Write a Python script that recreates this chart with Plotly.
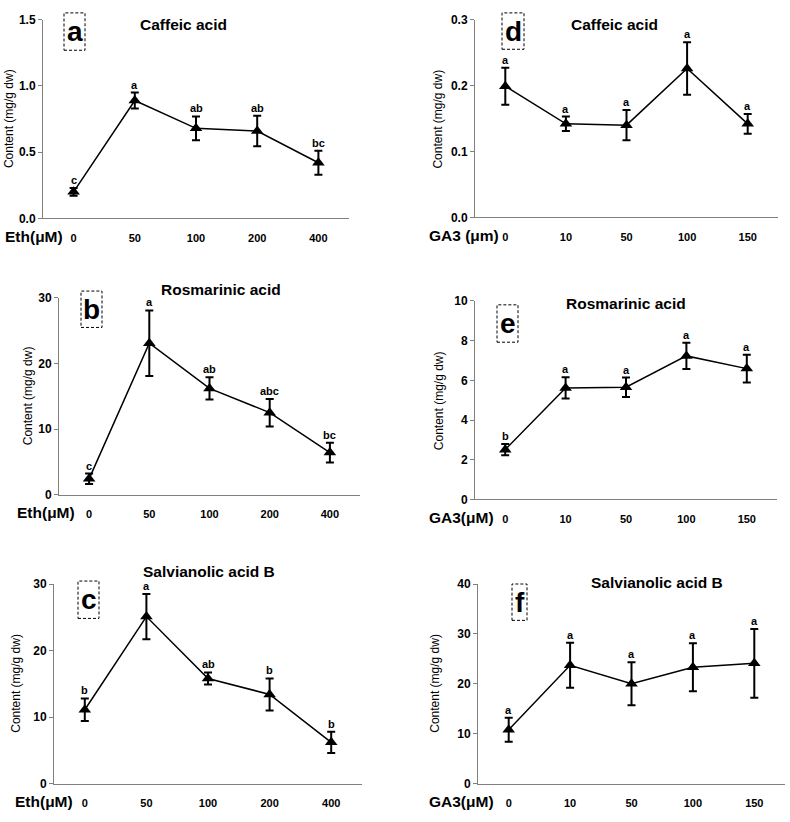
import plotly.graph_objects as go

# ---- data ----
eth_doses = ['0', '50', '100', '200', '400']
ga3_doses = ['0', '10', '50', '100', '150']

caffeic_eth = [0.20, 0.89, 0.68, 0.66, 0.42]
caffeic_eth_err = [0.03, 0.06, 0.09, 0.115, 0.09]
caffeic_eth_sig = ['c', 'a', 'ab', 'ab', 'bc']

rosmarinic_eth = [2.4, 23.1, 16.2, 12.5, 6.4]
rosmarinic_eth_err = [0.8, 5.0, 1.7, 2.1, 1.5]
rosmarinic_eth_sig = ['c', 'a', 'ab', 'abc', 'bc']

salvianolic_eth = [11.1, 25.1, 15.8, 13.4, 6.2]
salvianolic_eth_err = [1.7, 3.4, 0.9, 2.4, 1.6]
salvianolic_eth_sig = ['b', 'a', 'ab', 'b', 'b']

caffeic_ga3 = [0.199, 0.142, 0.140, 0.226, 0.142]
caffeic_ga3_err = [0.028, 0.011, 0.023, 0.040, 0.015]
caffeic_ga3_sig = ['a', 'a', 'a', 'a', 'a']

rosmarinic_ga3 = [2.51, 5.62, 5.65, 7.23, 6.59]
rosmarinic_ga3_err = [0.28, 0.54, 0.49, 0.66, 0.70]
rosmarinic_ga3_sig = ['b', 'a', 'a', 'a', 'a']

salvianolic_ga3 = [10.8, 23.7, 20.0, 23.3, 24.1]
salvianolic_ga3_err = [2.4, 4.5, 4.3, 4.8, 6.9]
salvianolic_ga3_sig = ['a', 'a', 'a', 'a', 'a']

W, H = 790, 822


def px(x):
    return x / W


def py(y):
    return 1 - y / H


FONT = 'Arial, Liberation Sans, sans-serif'

# panel layout in pixels: plot box (left, right, top, bottom), title, letter box, ytitle x, xlabel
panels = [
    dict(letter='a', title='Caffeic acid', doses=eth_doses, y=caffeic_eth, err=caffeic_eth_err,
         sig=caffeic_eth_sig, yrange=[0, 1.5], dtick=0.5, fmt='.1f', xlab='Eth(\u03bcM)',
         box=(43, 349, 13, 215), tpos=(183, 18), lbox=(64, 85, 6, 44), ytx=9, xlx=3),
    dict(letter='b', title='Rosmarinic acid', doses=eth_doses, y=rosmarinic_eth, err=rosmarinic_eth_err,
         sig=rosmarinic_eth_sig, yrange=[0, 30], dtick=10, fmt='d', xlab='Eth(\u03bcM)',
         box=(59, 360, 296, 496), tpos=(221, 287), lbox=(81, 102, 289, 326), ytx=28, xlx=15),
    dict(letter='c', title='Salvianolic acid B', doses=eth_doses, y=salvianolic_eth, err=salvianolic_eth_err,
         sig=salvianolic_eth_sig, yrange=[0, 30], dtick=10, fmt='d', xlab='Eth(\u03bcM)',
         box=(54, 362, 587, 790), tpos=(209, 574), lbox=(78, 99, 584, 622), ytx=16, xlx=13),
    dict(letter='d', title='Caffeic acid', doses=ga3_doses, y=caffeic_ga3, err=caffeic_ga3_err,
         sig=caffeic_ga3_sig, yrange=[0, 0.3], dtick=0.1, fmt='.1f', xlab='GA3 (\u03bcm)',
         box=(475, 778, 13, 214), tpos=(614, 18), lbox=(502, 524, 6, 43), ytx=438, xlx=427),
    dict(letter='e', title='Rosmarinic acid', doses=ga3_doses, y=rosmarinic_ga3, err=rosmarinic_ga3_err,
         sig=rosmarinic_ga3_sig, yrange=[0, 10], dtick=2, fmt='d', xlab='GA3(\u03bcM)',
         box=(475, 777, 299, 501), tpos=(626, 302), lbox=(497, 518, 303, 341), ytx=439, xlx=427),
    dict(letter='f', title='Salvianolic acid B', doses=ga3_doses, y=salvianolic_ga3, err=salvianolic_ga3_err,
         sig=salvianolic_ga3_sig, yrange=[0, 40], dtick=10, fmt='d', xlab='GA3(\u03bcM)',
         box=(478, 785, 587, 790), tpos=(657, 585), lbox=(512, 527, 587, 624), ytx=435, xlx=427),
]

fig = go.Figure()
annotations = []
shapes = []
layout_axes = {}

for i, p in enumerate(panels):
    n = '' if i == 0 else str(i + 1)
    xa, ya = 'x' + n, 'y' + n
    l, r, t, b = p['box']

    fig.add_trace(go.Scatter(
        x=p['doses'], y=p['y'], xaxis=xa, yaxis=ya,
        mode='lines+markers',
        line=dict(color='black', width=1.5),
        marker=dict(symbol='triangle-up', size=11, color='black'),
        error_y=dict(type='data', array=p['err'], visible=True,
                     color='black', thickness=2, width=4),
        showlegend=False, hoverinfo='skip'
    ))

    layout_axes['xaxis' + n] = dict(
        domain=[px(l), px(r)], anchor=ya, type='category',
        range=[-0.5, 4.5], showline=True, linecolor='#808080', linewidth=1,
        ticks='outside', ticklen=9, tickcolor='rgba(0,0,0,0)',
        showgrid=False, zeroline=False, fixedrange=True,
        tickfont=dict(family=FONT, size=11, color='black', weight='bold'),
    )
    layout_axes['yaxis' + n] = dict(
        domain=[py(b), py(t)], anchor=xa, range=p['yrange'], dtick=p['dtick'],
        tickformat=p['fmt'], showline=True, linecolor='#808080', linewidth=1,
        ticks='outside', ticklen=4, tickcolor='#808080',
        showgrid=False, zeroline=False, fixedrange=True,
        tickfont=dict(family=FONT, size=12, color='black', weight='bold'),
    )

    # significance letters above the upper error caps (category index on x)
    for j, (v, e, s) in enumerate(zip(p['y'], p['err'], p['sig'])):
        annotations.append(dict(
            x=j, y=v + e, xref=xa, yref=ya, text=s, showarrow=False,
            yanchor='bottom', yshift=0,
            font=dict(family=FONT, size=11, color='black', weight='bold')
        ))

    # panel title
    annotations.append(dict(
        x=px(p['tpos'][0]), y=py(p['tpos'][1]), xref='paper', yref='paper',
        text=p['title'], showarrow=False, xanchor='center', yanchor='middle',
        font=dict(family=FONT, size=15.5, color='black', weight='bold')
    ))

    # panel letter in dashed box
    bl, br, bt, bb = p['lbox']
    shapes.append(dict(type='rect', xref='paper', yref='paper',
                       x0=px(bl), x1=px(br), y0=py(bb), y1=py(bt),
                       line=dict(color='black', width=1, dash='3px,2px')))
    annotations.append(dict(
        x=px((bl + br) / 2), y=py((bt + bb) / 2), xref='paper', yref='paper',
        text=p['letter'], showarrow=False, xanchor='center', yanchor='middle',
        font=dict(family=FONT, size=28, color='black', weight='bold')
    ))

    # y-axis title
    annotations.append(dict(
        x=px(p['ytx']), y=py((t + b) / 2), xref='paper', yref='paper',
        text='Content (mg/g dw)', showarrow=False, textangle=-90,
        xanchor='center', yanchor='middle',
        font=dict(family=FONT, size=12, color='black')
    ))

    # x-axis label, left of tick labels
    annotations.append(dict(
        x=px(p['xlx']), y=py(b + 18), xref='paper', yref='paper',
        text=p['xlab'], showarrow=False, xanchor='left', yanchor='middle',
        font=dict(family=FONT, size=15.5, color='black', weight='bold')
    ))

fig.update_layout(
    width=W, height=H,
    margin=dict(l=0, r=0, t=0, b=0),
    plot_bgcolor='white', paper_bgcolor='white',
    annotations=annotations, shapes=shapes,
    **layout_axes
)

fig.write_html(
    "out.html",
    config={'displayModeBar': False, 'staticPlot': True},
    post_script="document.documentElement.style.overflow='hidden';"
                "document.body.style.margin='0';document.body.style.overflow='hidden';"
)
